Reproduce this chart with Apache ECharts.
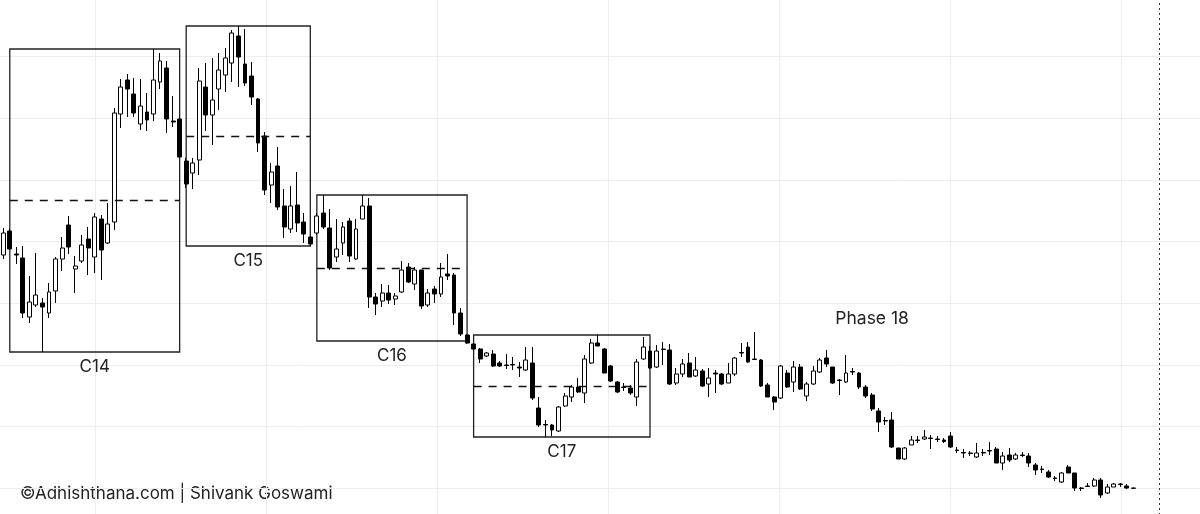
<!DOCTYPE html>
<html><head><meta charset="utf-8">
<script src="https://cdn.jsdelivr.net/npm/echarts@6/dist/echarts.min.js"></script>
<style>html,body{margin:0;padding:0;background:#fff}#c{width:1200px;height:514px}</style>
</head><body><div id="c"></div>
<script>
const categories = Array.from({length: 184}, (_, i) => 'B' + (i + 1));
const opens = [590,638,592,584,466,490,494,474,518,582,650,562,578,622,586,662,614,656,872,940,
912,852,876,872,936,964,858,862,778,754,780,926,870,922,950,974,1028,972,948,902,
828,730,768,688,642,690,656,626,634,674,644,586,614,658,582,662,688,506,498,514,
502,516,566,532,560,490,522,512,552,550,474,430,412,402,388,392,374,370,371,366,
360,374,284,251,250,238,288,306,326,314,374,414,402,368,336,326,324,306,382,398,
366,402,400,334,352,374,348,358,332,354,352,334,352,395,406,382,380,330,306,304,
354,336,366,308,332,356,384,366,340,336,357,354,326,310,278,259,260,204,182,210,
220,222,224,222,220,228,200,195,194,186,195,199,202,174,190,182,190,188,170,162,
156,144,136,166,154,124,128,128,140,114,126,132,128,124];
const closes = [634,602,590,474,496,510,486,516,582,604,606,568,610,604,666,600,652,874,926,922,
874,888,860,940,978,862,856,786,732,774,938,870,900,960,984,1034,986,934,906,814,
720,756,686,646,688,654,632,612,668,646,564,602,646,588,642,688,506,492,514,500,
508,560,536,560,488,514,512,546,548,474,432,414,402,382,394,368,368,369,370,364,
380,304,250,250,240,286,308,326,316,382,414,408,354,338,316,325,314,376,406,364,
398,401,332,352,372,346,360,328,344,352,332,352,384,394,376,381,328,306,296,368,
326,366,322,332,358,380,372,334,339,354,356,326,308,282,256,258,206,182,204,220,
219,226,223,221,217,206,199,194,193,194,194,198,174,188,180,190,189,174,160,161,
146,143,154,154,124,123,127,140,110,126,132,131,124,123.5];
const lows = [582,600,572,464,454,486,396,464,494,558,592,514,574,550,554,540,612,640,844,866,
866,840,838,858,922,834,846,784,724,722,750,838,810,880,916,936,926,928,890,796,
710,694,680,624,634,636,614,608,630,642,560,576,590,576,580,662,484,470,486,492,
490,514,534,520,482,486,494,506,540,450,428,412,398,374,386,366,366,362,360,346,
358,300,246,226,228,236,286,296,314,294,372,408,354,336,314,318,310,288,380,362,
364,370,330,330,346,346,346,326,306,314,330,334,348,386,374,380,326,306,280,302,
324,316,320,298,330,354,366,332,310,334,350,322,304,278,236,250,204,182,180,210,
214,220,202,216,214,204,194,184,188,184,188,190,174,160,176,180,186,166,150,154,
144,138,134,154,118,118,126,126,104,112,126,126,122,123];
const highs = [644,642,606,608,548,594,504,534,586,626,668,588,630,646,674,670,694,884,942,952,
944,942,914,1002,994,978,908,864,784,784,964,974,984,994,1004,1040,1048,1042,976,904,
836,774,806,722,728,756,674,628,674,710,682,662,656,664,662,710,704,514,532,530,
514,578,574,566,560,522,528,574,592,554,484,432,414,404,396,400,378,392,386,376,
406,406,306,260,252,288,314,330,344,390,422,430,404,370,338,334,330,382,426,408,
410,416,412,364,382,394,386,362,364,360,354,374,386,414,416,436,382,334,308,370,
360,378,372,336,368,384,400,366,342,390,364,356,330,314,284,266,276,204,206,228,
228,240,230,228,224,236,206,202,198,214,202,216,206,196,204,194,196,194,174,168,
160,148,156,170,154,126,134,144,144,132,134,134,132,124];

const boxNames = ['C14', 'C15', 'C16', 'C17'];
const boxStart = [1, 28, 48, 72];
const boxEnd = [27, 47, 71, 99];
const boxTop = [1002, 1048, 710, 430];
const boxBottom = [396, 608, 418, 226];
const phaseText = 'Phase 18';
const phaseIndex = 133;
const phaseValue = 462;
const markerIndex = 177;
const credit = '©Adhishthana.com | Shivank Goswami';

const FONT = 'Inter, "Liberation Sans", Arial, sans-serif';
const ohlc = opens.map((o, i) => [o, closes[i], lows[i], highs[i]]);

const areaData = boxNames.map((n, k) => [
  {name: n, xAxis: categories[boxStart[k]], yAxis: boxTop[k]},
  {xAxis: categories[boxEnd[k]], yAxis: boxBottom[k]}
]);
const midData = boxNames.map((n, k) => {
  const mid = (boxTop[k] + boxBottom[k]) / 2;
  return [
    {coord: [categories[boxStart[k]], mid], lineStyle: {type: [8, 7], color: '#111', width: 1.3}},
    {coord: [categories[boxEnd[k]], mid]}
  ];
});
midData.push({xAxis: categories[markerIndex], lineStyle: {type: [2, 3], color: '#333', width: 1}});

const chart = echarts.init(document.getElementById('c'), null, {renderer: 'canvas'});
chart.setOption({
  animation: false,
  backgroundColor: '#fff',
  grid: [
    {left: 0, right: -2, top: -5, bottom: -36, outerBoundsMode: 'none', containLabel: false},
    {left: -76, right: -92, top: -5, bottom: -36, outerBoundsMode: 'none', containLabel: false}
  ],
  xAxis: [
    {type: 'category', gridIndex: 0, data: categories, boundaryGap: true,
     axisLine: {show: false}, axisTick: {show: false}, axisLabel: {show: false}, splitLine: {show: false}},
    {type: 'value', gridIndex: 1, min: 0, max: 8, interval: 1,
     axisLine: {show: false}, axisTick: {show: false}, axisLabel: {show: false},
     splitLine: {show: true, lineStyle: {color: '#ededed', width: 1}}}
  ],
  yAxis: [
    {type: 'value', gridIndex: 0, min: 0, max: 1110, interval: 370 / 3, scale: false,
     axisLine: {show: false}, axisTick: {show: false}, axisLabel: {show: false},
     splitLine: {show: true, lineStyle: {color: '#ededed', width: 1}}},
    {type: 'value', gridIndex: 1, min: 0, max: 1, show: false}
  ],
  series: [{
    type: 'candlestick',
    xAxisIndex: 0, yAxisIndex: 0,
    data: ohlc,
    barWidth: 4.4,
    clip: false,
    itemStyle: {color: '#ffffff', color0: '#000000', borderColor: '#000000', borderColor0: '#000000', borderWidth: 1},
    emphasis: {disabled: true},
    markArea: {
      silent: true,
      itemStyle: {color: 'rgba(0,0,0,0)', borderColor: '#222', borderWidth: 1.3},
      label: {show: true, position: 'bottom', distance: 6, color: '#222', fontSize: 17, fontFamily: FONT},
      data: areaData
    },
    markLine: {
      silent: true,
      symbol: ['none', 'none'],
      label: {show: false},
      data: midData
    },
    markPoint: {
      silent: true,
      symbol: 'rect', symbolSize: 1,
      itemStyle: {color: 'rgba(0,0,0,0)'},
      label: {show: true, position: 'inside', color: '#222', fontSize: 17.5, fontFamily: FONT, formatter: phaseText},
      data: [{coord: [categories[phaseIndex], phaseValue]}]
    }
  }],
  graphic: [{
    type: 'text', left: 20, top: 485,
    style: {text: credit, font: '17px ' + FONT, fill: '#222'}
  }]
});
</script></body></html>
